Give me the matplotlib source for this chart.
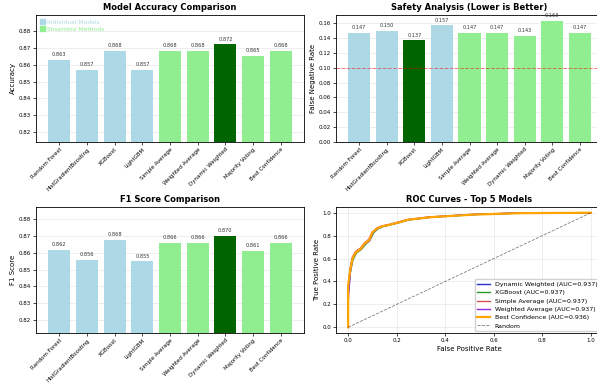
import matplotlib
matplotlib.use("Agg")
import matplotlib.pyplot as plt
from matplotlib.patches import Patch

models = ["Random Forest", "HistGradientBoosting", "XGBoost", "LightGBM",
          "Simple Average", "Weighted Average", "Dynamic Weighted",
          "Majority Voting", "Best Confidence"]
is_ensemble = [False, False, False, False, True, True, True, True, True]
accuracy = [0.863, 0.857, 0.868, 0.857, 0.868, 0.868, 0.872, 0.865, 0.868]
f1_score = [0.862, 0.856, 0.868, 0.855, 0.866, 0.866, 0.870, 0.861, 0.866]
fnr = [0.147, 0.150, 0.137, 0.157, 0.147, 0.147, 0.143, 0.163, 0.147]
fnr_threshold = 0.10

roc_fpr = {
    "Dynamic Weighted": [0.0, 0.0, 0.008, 0.018, 0.032, 0.052, 0.066, 0.087, 0.10, 0.121, 0.141, 0.169, 0.203, 0.245, 0.34, 0.41, 0.52, 0.615, 0.70, 1.0],
    "XGBoost":          [0.0, 0.0, 0.010, 0.020, 0.035, 0.055, 0.070, 0.090, 0.105, 0.125, 0.145, 0.172, 0.205, 0.250, 0.34, 0.42, 0.52, 0.620, 0.70, 1.0],
    "Simple Average":   [0.0, 0.0, 0.007, 0.017, 0.030, 0.050, 0.065, 0.085, 0.10, 0.120, 0.140, 0.168, 0.200, 0.245, 0.33, 0.41, 0.51, 0.610, 0.69, 1.0],
    "Weighted Average": [0.0, 0.0, 0.009, 0.019, 0.033, 0.053, 0.068, 0.088, 0.103, 0.123, 0.143, 0.170, 0.204, 0.248, 0.34, 0.41, 0.52, 0.615, 0.70, 1.0],
    "Best Confidence":  [0.0, 0.0, 0.008, 0.018, 0.032, 0.052, 0.066, 0.087, 0.10, 0.121, 0.141, 0.169, 0.203, 0.245, 0.34, 0.41, 0.52, 0.615, 0.71, 1.0],
}
roc_tpr = {
    "Dynamic Weighted": [0.0, 0.30, 0.50, 0.60, 0.656, 0.685, 0.729, 0.764, 0.83, 0.866, 0.883, 0.895, 0.913, 0.939, 0.962, 0.971, 0.985, 0.991, 0.997, 1.0],
    "XGBoost":          [0.0, 0.28, 0.49, 0.59, 0.650, 0.680, 0.720, 0.760, 0.825, 0.862, 0.880, 0.893, 0.910, 0.937, 0.960, 0.970, 0.984, 0.990, 0.996, 1.0],
    "Simple Average":   [0.0, 0.32, 0.50, 0.61, 0.660, 0.690, 0.730, 0.768, 0.832, 0.868, 0.885, 0.897, 0.915, 0.940, 0.963, 0.972, 0.986, 0.992, 0.997, 1.0],
    "Weighted Average": [0.0, 0.22, 0.48, 0.60, 0.655, 0.684, 0.725, 0.755, 0.828, 0.864, 0.882, 0.894, 0.912, 0.938, 0.961, 0.971, 0.985, 0.991, 0.997, 1.0],
    "Best Confidence":  [0.0, 0.365, 0.49, 0.60, 0.655, 0.683, 0.727, 0.762, 0.829, 0.865, 0.882, 0.894, 0.912, 0.938, 0.961, 0.970, 0.984, 0.990, 0.996, 1.0],
}
roc_auc = {"Dynamic Weighted": 0.937, "XGBoost": 0.937, "Simple Average": 0.937,
           "Weighted Average": 0.937, "Best Confidence": 0.936}
roc_colors = {"Dynamic Weighted": "#2b2bd0", "XGBoost": "#2a9a2a", "Simple Average": "#e05050",
              "Weighted Average": "#8a2be2", "Best Confidence": "#ffa500"}
roc_widths = {"Dynamic Weighted": 1.0, "XGBoost": 1.0, "Simple Average": 1.0,
              "Weighted Average": 1.0, "Best Confidence": 1.6}

W, H = 597, 384
fig = plt.figure(figsize=(W / 100, H / 100), dpi=100)

def box(l, t, r, b):
    return [l / W, 1 - b / H, (r - l) / W, (b - t) / H]

ax_acc = fig.add_axes(box(36, 15, 304, 142))
ax_fnr = fig.add_axes(box(336, 15, 603, 142))
ax_f1 = fig.add_axes(box(36, 207, 304, 333))
ax_roc = fig.add_axes(box(336, 207, 603, 333))

TICK = 4.0
LAB = 5.0
TITLE = 6.0
VAL = 3.6

def colors_for(best_idx):
    out = []
    for i, ens in enumerate(is_ensemble):
        if i == best_idx:
            out.append("darkgreen")
        else:
            out.append("lightgreen" if ens else "lightblue")
    return out

def bar_panel(ax, vals, best_idx, title, ylabel, ylim):
    x = list(range(len(models)))
    bars = ax.bar(x, vals, color=colors_for(best_idx), width=0.8)
    ax.bar_label(bars, labels=[f"{v:.3f}" for v in vals], padding=2.0, fontsize=VAL, color="#333333")
    ax.set_ylim(*ylim)
    ax.set_xticks(x)
    ax.set_xticklabels(models, rotation=45, ha="right", fontsize=TICK, rotation_mode="anchor")
    ax.tick_params(axis="y", labelsize=TICK, length=2, width=0.5, pad=1.5)
    ax.tick_params(axis="x", length=2, width=0.5, pad=1.5)
    ax.set_title(title, fontsize=TITLE, fontweight="bold", pad=3.5)
    ax.set_ylabel(ylabel, fontsize=LAB, labelpad=2)
    ax.grid(axis="y", alpha=0.3, linewidth=0.5)
    ax.set_axisbelow(True)
    for s in ax.spines.values():
        s.set_linewidth(0.6)

acc_best = accuracy.index(max(accuracy))
bar_panel(ax_acc, accuracy, acc_best, "Model Accuracy Comparison", "Accuracy",
          (min(accuracy) * 0.95, max(accuracy) * 1.02))
ax_acc.legend(handles=[Patch(color="lightblue", label="Individual Models"),
                       Patch(color="lightgreen", label="Ensemble Methods")],
              loc="upper left", fontsize=4.3, frameon=False, handlelength=0.8,
              handleheight=0.8, handletextpad=0.4, labelspacing=0.3,
              borderaxespad=0.3, labelcolor=["lightblue", "lightgreen"])

fnr_best = fnr.index(min(fnr))
bar_panel(ax_fnr, fnr, fnr_best, "Safety Analysis (Lower is Better)", "False Negative Rate",
          (0, max(fnr) * 1.05))
ax_fnr.axhline(fnr_threshold, color="red", linestyle="--", alpha=0.5, linewidth=0.7)

f1_best = f1_score.index(max(f1_score))
bar_panel(ax_f1, f1_score, f1_best, "F1 Score Comparison", "F1 Score",
          (min(f1_score) * 0.95, max(f1_score) * 1.02))

for name in roc_fpr:
    ax_roc.plot(roc_fpr[name], roc_tpr[name], color=roc_colors[name],
                linewidth=roc_widths[name], label=f"{name} (AUC={roc_auc[name]:.3f})")
ax_roc.plot([0, 1], [0, 1], "k--", alpha=0.5, linewidth=0.6, label="Random")
ax_roc.set_title("ROC Curves - Top 5 Models", fontsize=TITLE, fontweight="bold", pad=3.5)
ax_roc.set_xlabel("False Positive Rate", fontsize=LAB, labelpad=2)
ax_roc.set_ylabel("True Positive Rate", fontsize=LAB, labelpad=2)
ax_roc.tick_params(labelsize=TICK, length=2, width=0.5, pad=1.5)
ax_roc.grid(alpha=0.3, linewidth=0.5)
for s in ax_roc.spines.values():
    s.set_linewidth(0.6)
ax_roc.legend(loc="lower right", bbox_to_anchor=(0.995, 0.0), fontsize=4.5,
              handlelength=2.0, labelspacing=0.47, borderpad=0.4, borderaxespad=0.3,
              framealpha=0.9, edgecolor="#cccccc")

fig.savefig("out.png", dpi=100)
